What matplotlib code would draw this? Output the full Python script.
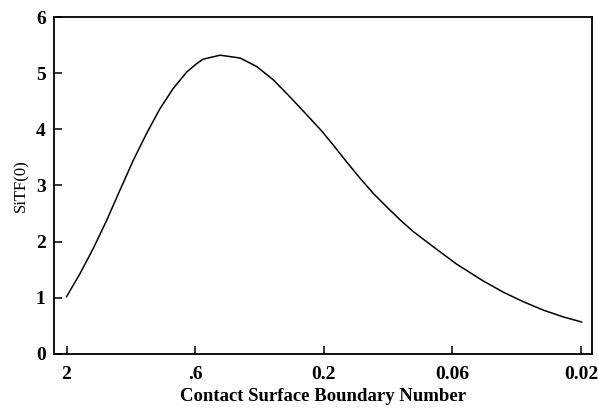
import matplotlib.pyplot as plt
from matplotlib.ticker import FixedLocator, NullLocator

# curve (x is log-scaled and reversed)
boundary_number = [2.0, 1.773, 1.574, 1.396, 1.239, 1.100, 0.976, 0.866, 0.769, 0.682,
                   0.624, 0.588, 0.506, 0.423, 0.365, 0.314, 0.271, 0.233, 0.2038,
                   0.1837, 0.1630, 0.1446, 0.1284, 0.1139, 0.1011, 0.0898, 0.0797,
                   0.0707, 0.0609, 0.0480, 0.0401, 0.0335, 0.0280, 0.02345, 0.0199]
sitf = [1.02, 1.43, 1.88, 2.38, 2.92, 3.45, 3.93, 4.37, 4.73, 5.02,
        5.17, 5.25, 5.32, 5.27, 5.12, 4.88, 4.58, 4.26, 3.97,
        3.72, 3.42, 3.13, 2.86, 2.62, 2.39, 2.18, 2.00,
        1.82, 1.60, 1.30, 1.10, 0.93, 0.78, 0.66, 0.57]

x_ticks = [2, 2 / 10 ** 0.5, 0.2, 0.2 / 10 ** 0.5, 0.02]
x_tick_labels = ["2", ".6", "0.2", "0.06", "0.02"]
y_ticks = [0, 1, 2, 3, 4, 5, 6]


def main():
    plt.rcParams['font.family'] = ['Liberation Serif', 'DejaVu Serif']
    fig = plt.figure(figsize=(5.98, 4.08), dpi=100)
    ax = fig.add_axes([0.0903, 0.1324, 0.8997, 0.8259])

    ax.plot(boundary_number, sitf, color='black', linewidth=1.1)

    ax.set_xscale('log')
    ax.set_xlim(2.237, 0.01813)
    ax.set_ylim(0, 6)
    ax.xaxis.set_major_locator(FixedLocator(x_ticks))
    ax.xaxis.set_minor_locator(NullLocator())
    ax.set_xticklabels(x_tick_labels, fontsize=14, fontweight='bold')
    ax.set_yticks(y_ticks)
    ax.set_yticklabels([str(v) for v in y_ticks], fontsize=14, fontweight='bold')
    ax.tick_params(direction='in', length=6, width=1.1, top=False, right=False)
    ax.tick_params(axis='x', pad=9)
    ax.tick_params(axis='y', pad=6)

    for s in ax.spines.values():
        s.set_linewidth(1.3)

    ax.set_xlabel("Contact Surface Boundary Number", fontsize=13.5, fontweight='bold', labelpad=3)
    ax.set_ylabel("SiTF(0)", fontsize=12, labelpad=5)

    plt.savefig('out.png')


if __name__ == "__main__":
    main()
